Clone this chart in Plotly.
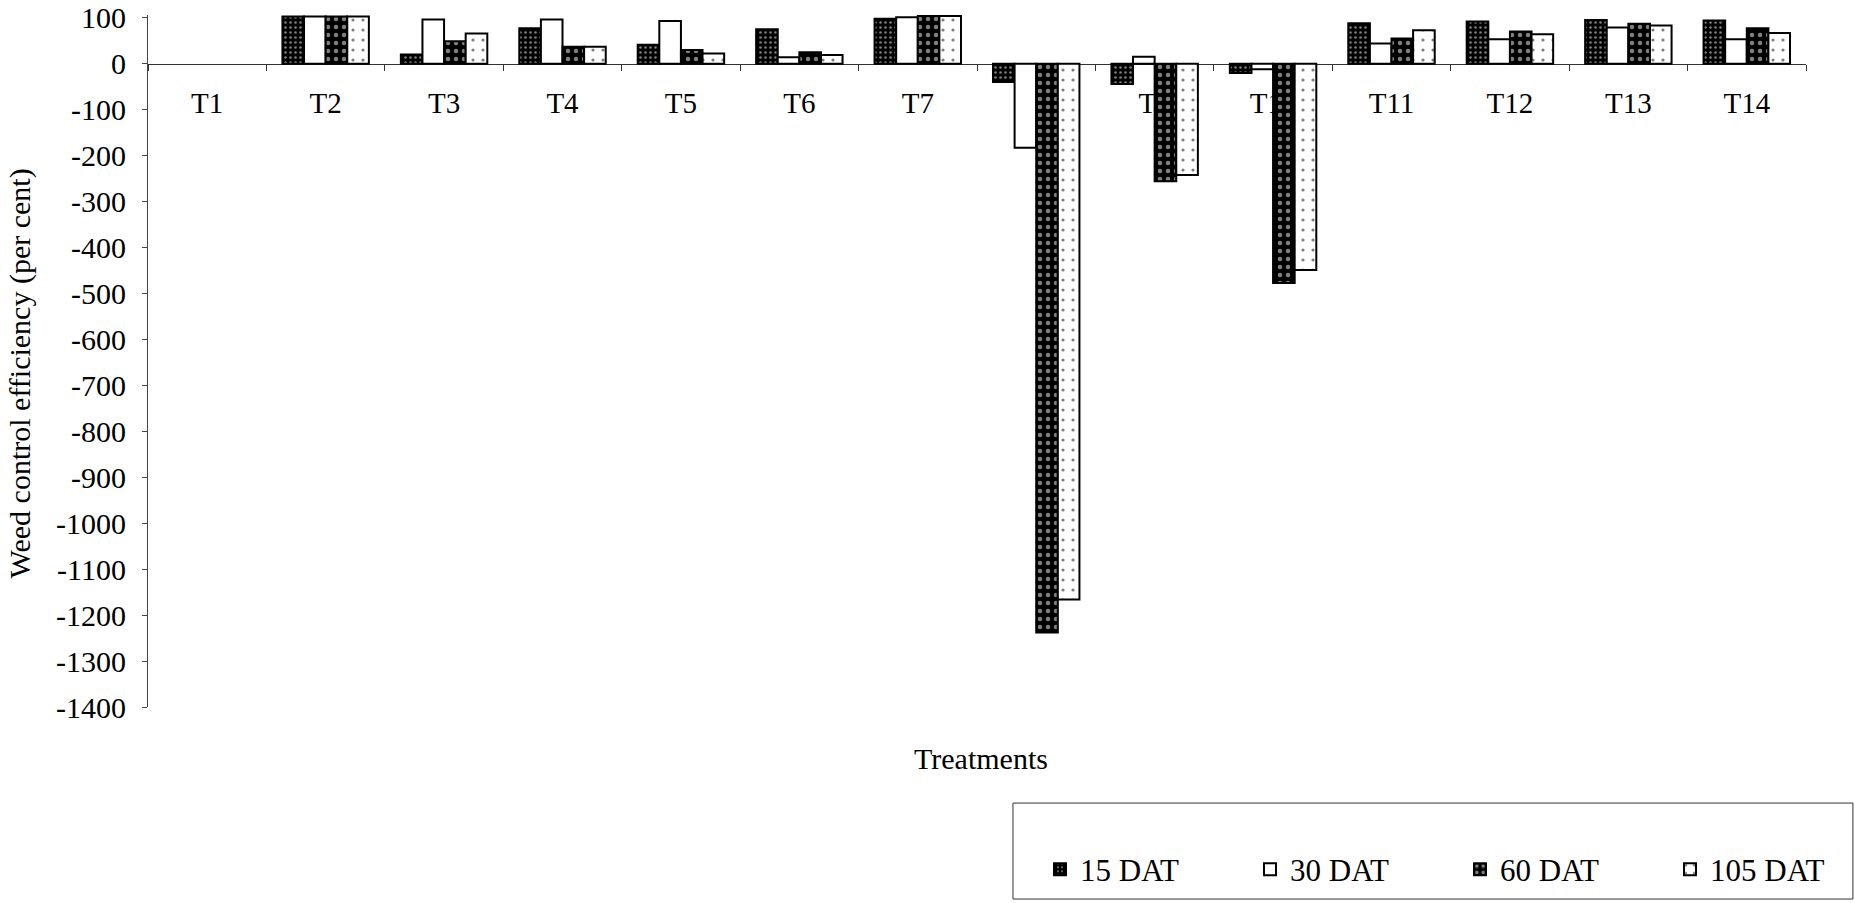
import plotly.graph_objects as go

categories = ["T1", "T2", "T3", "T4", "T5", "T6", "T7", "T8", "T9", "T10", "T11", "T12", "T13", "T14"]
dat15 = [None, 103, 20, 77, 41, 75, 98, -40, -44, -20, 88, 92, 95, 94]
dat30 = [None, 103, 96, 96, 93, 14, 101, -183, 15, -12, 44, 53, 79, 53]
dat60 = [None, 103, 49, 37, 30, 25, 104, -1238, -256, -477, 55, 70, 87, 77]
dat105 = [None, 103, 66, 37, 22, 19, 104, -1166, -242, -449, 73, 64, 83, 67]
series_names = ["15 DAT", "30 DAT", "60 DAT", "105 DAT"]
y_ticks = [100, 0, -100, -200, -300, -400, -500, -600, -700, -800, -900, -1000, -1100, -1200, -1300, -1400]
y_ticktext = ["100", "0", "-100", "-200", "-300", "-400", "-500", "-600", "-700", "-800", "-900", "-1000", "-1100", "-1200", "-1300", "-1400"]

FONT = "Liberation Serif, Times New Roman, serif"
line = dict(color="black", width=2)

styles = [
    dict(color="black", line=line, pattern=dict(shape=".", bgcolor="black", fgcolor="white", size=5, solidity=0.2)),
    dict(color="white", line=line),
    dict(color="black", line=line, pattern=dict(shape=".", bgcolor="black", fgcolor="white", size=8, solidity=0.25)),
    dict(color="white", line=line, pattern=dict(shape=".", bgcolor="white", fgcolor="black", size=10, solidity=0.08)),
]

fig = go.Figure()
for name, vals, st in zip(series_names, [dat15, dat30, dat60, dat105], styles):
    fig.add_trace(go.Bar(x=categories, y=vals, name=name, marker=st))

Y_TOP = 106
fig.update_layout(
    width=1854, height=903,
    margin=dict(l=148, r=48, t=15, b=196, autoexpand=False),
    paper_bgcolor="white", plot_bgcolor="white",
    barmode="group", bargap=0.27, bargroupgap=0,
    font=dict(family=FONT, size=30, color="black"),
    showlegend=True,
    legend=dict(orientation="h", x=0.538, xanchor="left", y=-0.235, yanchor="middle",
                font=dict(family=FONT, size=31), entrywidth=165, bgcolor="rgba(0,0,0,0)", borderwidth=0),
    xaxis=dict(anchor="free", position=1400 / (1400 + Y_TOP), showline=True, linecolor="#333", linewidth=1,
               ticks="outside", ticklen=6, tickcolor="#333", tickson="boundaries",
               showgrid=False, zeroline=False, layer="below traces",
               tickfont=dict(family=FONT, size=29), ticklabelstandoff=13),
    yaxis=dict(range=[-1400, Y_TOP], tickvals=y_ticks, ticktext=y_ticktext, showline=True,
               linecolor="#444", linewidth=1, ticks="outside", ticklen=5, tickcolor="#444",
               showgrid=False, zeroline=False, tickfont=dict(family=FONT, size=30),
               ticklabelstandoff=10, ticklabeloverflow="allow"),
    shapes=[dict(type="rect", xref="paper", yref="paper", x0=0.5217, x1=1.0283, y0=-0.1388, y1=-0.2775,
                 line=dict(color="#333", width=1), fillcolor="rgba(0,0,0,0)")],
    annotations=[
        dict(text="Treatments", xref="paper", yref="paper", x=0.5024, y=-0.075,
             xanchor="center", yanchor="middle", showarrow=False, font=dict(family=FONT, size=30)),
        dict(text="Weed control efficiency (per cent)", xref="paper", yref="paper", x=-0.0772, y=0.482,
             xanchor="center", yanchor="middle", textangle=-90, showarrow=False, font=dict(family=FONT, size=30)),
    ],
)

fig.write_html("out.html")
